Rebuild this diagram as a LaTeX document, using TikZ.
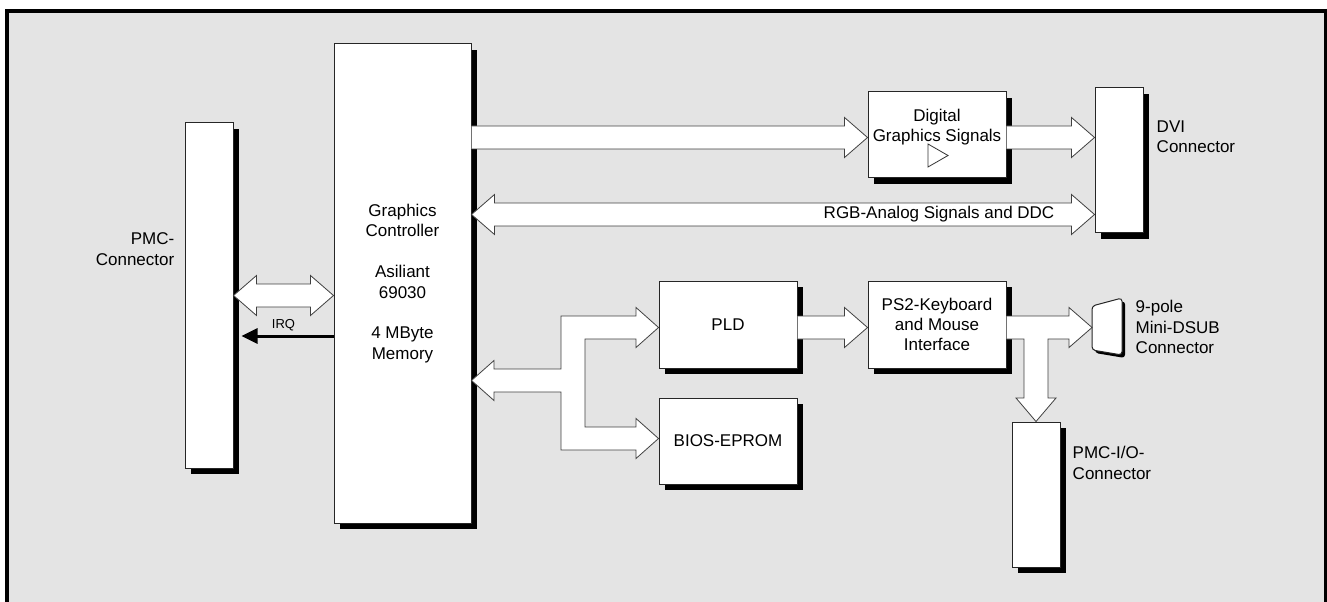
\documentclass[tikz,border=0pt]{standalone}
\usepackage{fontspec}
\setmainfont{Liberation Sans}
\usetikzlibrary{calc,shadows,arrows.meta}
\definecolor{bg}{HTML}{E4E4E4}
\tikzset{
 box/.style={draw=black!85, line width=0.75pt, fill=white, inner sep=0pt,
   drop shadow={shadow xshift=4.5pt, shadow yshift=-4.5pt, fill=black, opacity=1}},
 txt/.style={font=\fontsize{12.75}{15.3}\selectfont, align=center},
 arr/.style={draw=black!75, line width=0.6pt, fill=white, line join=miter},
}
\newcommand\fatR[2]{%
 \draw[arr] let \p1=(#1), \p2=(#2) in
   (\x1,\y1+8.625pt) -- (\x2-17.25pt,\y1+8.625pt) -- (\x2-17.25pt,\y1+15pt) -- (\x2,\y1)
   -- (\x2-17.25pt,\y1-15pt) -- (\x2-17.25pt,\y1-8.625pt) -- (\x1,\y1-8.625pt);}
\newcommand\fatLR[2]{%
 \draw[arr] let \p1=(#1), \p2=(#2) in
   (\x1,\y1) -- (\x1+17.25pt,\y1+15pt) -- (\x1+17.25pt,\y1+8.625pt) -- (\x2-17.25pt,\y1+8.625pt)
   -- (\x2-17.25pt,\y1+15pt) -- (\x2,\y1) -- (\x2-17.25pt,\y1-15pt) -- (\x2-17.25pt,\y1-8.625pt)
   -- (\x1+17.25pt,\y1-8.625pt) -- (\x1+17.25pt,\y1-15pt) -- cycle;}
\begin{document}
\begin{tikzpicture}[x=0.75pt,y=-0.75pt]
\useasboundingbox (0,0) rectangle (1327,602);
\fill[white] (0,0) rectangle (1327,602);
\fill[bg] (9,13) rectangle (1324,602);
\draw[line width=3pt] (7,602) -- (7,11) -- (1327,11);
\draw[line width=2.25pt] (1325.5,9) -- (1325.5,602);

% boxes
\node[box, minimum width=36pt, minimum height=258.75pt] (pmc) at (209,295.5) {};
\node[box, txt, minimum width=102.75pt, minimum height=359.25pt] (gc) at (402.5,283.5)
  {Graphics\\Controller\\[15.3pt]Asiliant\\69030\\[15.3pt]4 MByte\\Memory};
\node[box, minimum width=103.5pt, minimum height=64.5pt] (dig) at (937,135) {};
\node[box, minimum width=36pt, minimum height=108.75pt] (dvi) at (1119,160.5) {};
\node[box, txt, minimum width=103.5pt, minimum height=65.25pt] (pld) at (728,324.5) {PLD};
\node[box, txt, minimum width=103.5pt, minimum height=64.5pt] (bios) at (728,441) {BIOS-EPROM};
\node[box, txt, minimum width=103.5pt, minimum height=65.25pt] (ps2) at (937,324.5)
  {PS2-Keyboard\\and Mouse\\Interface};
\node[box, minimum width=36pt, minimum height=108.75pt] (pmcio) at (1036,494.5) {};

% box contents and labels
\node[txt] (digtxt) at (937,127) {Digital\\Graphics Signals};
\draw[black!80, line width=0.6pt] (928,144) -- (948,155.5) -- (928,167) -- cycle;
\node[txt, align=right, anchor=east] (pmclbl) at (179,249) {PMC-\\Connector};
\node[txt, align=left, anchor=west] (dvilbl) at (1152,137) {DVI\\Connector};
\node[txt, align=left, anchor=west] (dsublbl) at (1131,327) {9-pole\\Mini-DSUB\\Connector};
\node[txt, align=left, anchor=west] (pmciolbl) at (1068,463) {PMC-I/O-\\Connector};

% mini DSUB connector
\coordinate (dsubtip) at (1092,327.5);
\fill[black, rounded corners=2.5pt] (1095,309) -- (1125,301) -- (1125,358) -- (1095,353) -- cycle;
\draw[draw=black!85, line width=0.75pt, fill=white, rounded corners=2.5pt]
  (1092,306) -- (1122,298) -- (1122,355) -- (1092,350) -- cycle;

% fat arrows
\fatR{gc.east |- 0,137.5}{dig.west |- 0,137.5}
\fatR{dig.east |- 0,137.5}{dvi.west |- 0,137.5}
\fatLR{gc.east |- 0,214.5}{dvi.west |- 0,214.5}
\node[txt, anchor=east] (rgblbl) at (1059,214.5) {RGB-Analog Signals and DDC};
\fatLR{pmc.east |- 0,295.5}{gc.west |- 0,295.5}
\fatR{pld.east |- 0,327.5}{ps2.west |- 0,327.5}

% bus to PLD and BIOS
\draw[arr] (gc.east |- 0,380.5) -- (494,360.5) -- (494,369) -- (561,369) -- (561,316)
  -- (636,316) -- (636,307.5) -- (pld.west |- 0,327.5) -- (636,347.5) -- (636,339)
  -- (585,339) -- (585,427) -- (636,427) -- (636,418.5) -- (bios.west |- 0,438.5)
  -- (636,458.5) -- (636,450) -- (561,450) -- (561,392) -- (494,392) -- (494,400.5) -- cycle;

% T arrow from PS2
\draw[arr] (ps2.east |- 0,316) -- (1069,316) -- (1069,307.5) -- (dsubtip) -- (1069,347.5)
  -- (1069,339) -- (1048,339) -- (1048,398) -- (1056,398) -- (pmcio.north) -- (1016,398)
  -- (1024,398) -- (1024,339) -- (ps2.east |- 0,339);

% IRQ
\draw[line width=2.25pt, -{Triangle[length=12pt,width=11.25pt]}]
  (gc.west |- 0,336) -- ($(pmc.east |- 0,336)+(8,0)$);
\node[font=\fontsize{9.75}{11}\selectfont] (irq) at (283.5,325) {IRQ};
\end{tikzpicture}
\end{document}
